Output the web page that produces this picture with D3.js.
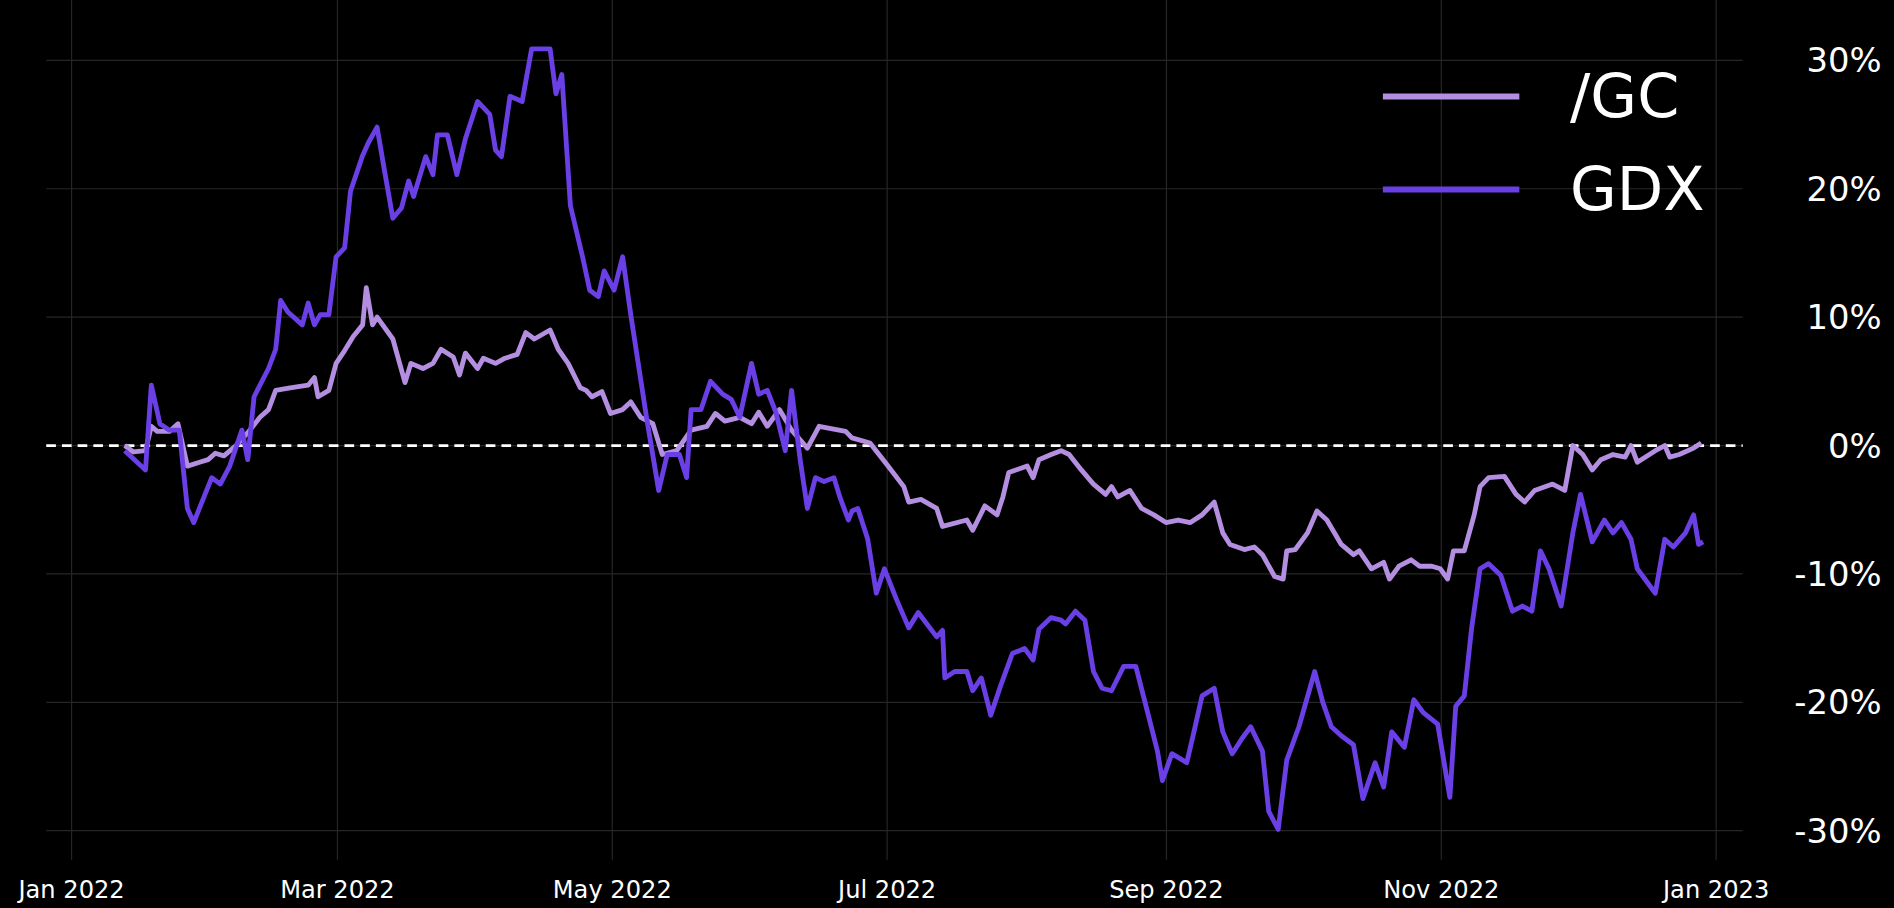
<!DOCTYPE html>
<html>
<head>
<meta charset="utf-8">
<script src="https://cdn.jsdelivr.net/npm/d3@7"></script>
<style>
  body { margin: 0; background: #000; overflow: hidden; }
  svg { display: block; }
  text { font-family: "DejaVu Sans", sans-serif; fill: #fff; }
</style>
</head>
<body>
<div id="chart"></div>
<script>
// day offsets from Jan 1 2022, values in percent
const gcDays = [11.8,13.7,16.4,17.7,19.0,21.7,23.6,25.7,28.4,30.3,31.9,33.8,36.5,39.1,41.8,43.7,45.3,48.5,52.5,53.9,54.7,57.1,58.7,60.6,62.5,64.6,65.4,66.8,67.8,71.3,74.0,75.3,78.0,80.2,82.0,84.7,86.1,87.4,90.1,91.4,94.1,96.2,98.9,100.8,102.7,106.2,108.0,110.2,112.9,114.2,115.5,117.7,119.6,122.3,124.1,126.3,129.0,131.1,134.3,137.5,141.0,142.9,145.0,148.3,150.9,152.5,154.4,157.1,159.8,163.3,165.9,171.8,173.2,177.2,181.2,184.7,185.8,188.5,192.0,193.3,198.7,200.0,202.7,205.4,206.7,208.0,212.1,213.4,214.7,217.4,219.6,221.4,224.1,226.8,229.5,230.8,232.2,234.9,237.5,240.2,242.9,245.6,248.3,250.9,253.6,255.5,257.1,260.3,262.5,264.3,267.0,268.9,269.7,271.6,274.3,276.4,278.6,281.8,284.5,285.8,288.5,291.2,292.5,294.6,297.3,299.2,301.9,303.8,305.4,306.7,309.1,311.3,312.6,314.5,318.0,320.6,322.5,324.7,328.7,331.4,333.2,335.4,337.5,339.4,342.1,344.8,346.1,347.5,350.2,351.5,353.6,354.7,356.8,360.0,361.7];
const gcVals = [0,-0.5,-0.4,1.5,1.1,1.1,1.7,-1.6,-1.3,-1.1,-0.6,-0.8,0,1.0,2.2,2.8,4.3,4.5,4.7,5.3,3.8,4.3,6.4,7.4,8.5,9.4,12.3,9.4,10.0,8.3,4.9,6.4,6.0,6.4,7.5,6.9,5.5,7.2,6.0,6.8,6.4,6.8,7.1,8.8,8.3,9.0,7.5,6.4,4.5,4.3,3.8,4.2,2.5,2.8,3.4,2.2,1.7,-0.7,-0.4,1.2,1.5,2.5,1.9,2.2,1.7,2.6,1.5,2.8,1.2,-0.2,1.5,1.1,0.6,0.2,-1.6,-3.2,-4.4,-4.2,-4.9,-6.3,-5.8,-6.6,-4.7,-5.4,-4.0,-2.1,-1.6,-2.5,-1.1,-0.7,-0.4,-0.7,-1.9,-3.0,-3.8,-3.2,-4.0,-3.5,-4.9,-5.4,-6.0,-5.8,-6.0,-5.4,-4.4,-6.8,-7.7,-8.1,-7.9,-8.5,-10.2,-10.4,-8.2,-8.1,-6.8,-5.1,-5.8,-7.7,-8.5,-8.2,-9.6,-9.1,-10.4,-9.4,-8.9,-9.4,-9.4,-9.6,-10.4,-8.2,-8.2,-5.4,-3.2,-2.5,-2.4,-3.8,-4.4,-3.5,-3.0,-3.5,0,-0.7,-1.9,-1.1,-0.7,-0.9,0,-1.3,-0.7,-0.4,0,-0.9,-0.7,-0.2,0.2];

const gdxDays = [11.8,16.4,17.7,19.6,21.7,23.9,25.7,27.1,31.1,33.0,35.1,37.8,39.1,40.5,43.7,45.3,46.4,48.0,51.2,52.5,53.9,55.2,57.1,58.7,60.6,61.9,64.6,65.9,67.8,69.4,71.3,73.2,74.8,75.9,78.6,80.2,81.2,83.4,85.5,87.4,90.1,92.8,94.1,95.4,97.3,100.0,102.1,106.2,107.5,108.8,110.7,113.4,115.0,116.9,118.2,120.4,122.3,124.1,127.6,130.3,132.2,134.9,136.5,137.5,139.7,141.8,144.5,146.4,148.3,150.9,152.5,154.4,156.3,158.4,159.8,161.7,163.3,165.1,167.0,169.2,170.5,172.4,173.2,174.5,176.7,178.6,180.4,183.1,185.8,187.9,192.0,193.3,193.8,196.0,198.7,200.0,201.9,204.0,206.2,208.8,211.5,213.4,214.7,217.4,219.6,220.6,222.8,224.9,226.8,228.7,230.8,233.5,236.2,238.9,241.0,242.1,244.2,247.5,249.1,250.9,253.6,255.5,257.6,259.8,261.7,264.3,265.7,267.8,269.7,272.4,275.9,277.7,279.6,281.8,284.5,286.6,289.3,291.2,293.0,295.8,297.9,300.0,303.2,305.9,307.2,309.1,310.7,312.6,314.5,317.2,319.8,322.0,324.1,326.0,327.9,330.6,333.2,334.9,337.5,340.2,342.1,344.0,346.1,347.5,351.5,353.6,355.5,358.2,360.0,361.1,362.1];
const gdxVals = [-0.4,-1.9,4.7,1.7,1.2,1.2,-4.9,-6.0,-2.5,-3.0,-1.6,1.2,-1.1,3.8,6.0,7.5,11.3,10.4,9.4,11.1,9.4,10.2,10.2,14.7,15.4,19.8,22.6,23.6,24.8,21.5,17.7,18.5,20.6,19.4,22.5,21.1,24.2,24.2,21.1,23.9,26.8,25.8,23.0,22.5,27.2,26.8,30.9,30.9,27.4,28.9,18.7,14.7,12.1,11.6,13.6,12.1,14.7,10.2,2.2,-3.5,-0.7,-0.7,-2.5,2.8,2.8,5.0,4.0,3.6,2.2,6.4,4.0,4.3,2.6,-0.4,4.3,-1.1,-4.9,-2.5,-2.8,-2.5,-4.0,-5.8,-5.1,-4.9,-7.3,-11.5,-9.6,-12.0,-14.2,-13.0,-14.9,-14.4,-18.1,-17.6,-17.6,-19.1,-18.1,-21.0,-18.7,-16.2,-15.8,-16.7,-14.3,-13.4,-13.6,-13.9,-12.9,-13.6,-17.6,-18.9,-19.1,-17.2,-17.2,-20.9,-23.8,-26.1,-24.0,-24.7,-22.3,-19.5,-18.9,-22.3,-24.0,-22.8,-21.9,-23.8,-28.5,-29.9,-24.5,-21.9,-17.6,-20.0,-21.9,-22.6,-23.3,-27.5,-24.7,-26.6,-22.3,-23.5,-19.8,-20.8,-21.7,-27.4,-20.3,-19.5,-14.3,-9.6,-9.2,-10.1,-12.9,-12.5,-12.9,-8.2,-9.6,-12.5,-6.8,-3.8,-7.5,-5.8,-6.8,-6.0,-7.3,-9.6,-11.5,-7.3,-7.9,-6.8,-5.4,-7.7,-7.5];

const seriesNames = ["/GC", "GDX"];
const seriesColors = ["#b48ee0", "#6a3fe6"];
const xTickDates = ["2022-01-01","2022-03-01","2022-05-01","2022-07-01","2022-09-01","2022-11-01","2023-01-01"];
const yTicks = [-30,-20,-10,0,10,20,30];

// layout is worked out on a 1568x752 grid and scaled to the window
const vw = 1568, vh = 752;
const start = new Date(2022, 0, 1);
const toDate = d => new Date(start.getTime() + d * 86400000);

const svg = d3.select("#chart").append("svg")
  .attr("width", 1894).attr("height", 908)
  .attr("viewBox", `0 0 ${vw} ${vh}`)
  .style("background", "#000");

const x = d3.scaleTime().domain([start, new Date(2023, 0, 1)]).range([59, 1421]);
const y = d3.scaleLinear().domain([-30, 30]).range([688, 50]);
const left = 38, right = 1443;

// grid
svg.append("g").selectAll("line")
  .data(xTickDates.map(d3.isoParse)).enter().append("line")
  .attr("x1", d => x(d)).attr("x2", d => x(d))
  .attr("y1", 0).attr("y2", 712)
  .attr("stroke", "#262626").attr("stroke-width", 1);
svg.append("g").selectAll("line")
  .data(yTicks).enter().append("line")
  .attr("x1", left).attr("x2", right)
  .attr("y1", d => y(d)).attr("y2", d => y(d))
  .attr("stroke", "#262626").attr("stroke-width", 1);

// axis labels
const fmtX = d3.timeFormat("%b %Y");
svg.append("g").selectAll("text")
  .data(xTickDates.map(d3.isoParse)).enter().append("text")
  .attr("x", d => x(d)).attr("y", 744)
  .attr("text-anchor", "middle").attr("font-size", 20)
  .text(d => fmtX(d));
svg.append("g").selectAll("text")
  .data(yTicks).enter().append("text")
  .attr("x", 1558).attr("y", d => y(d) + 10)
  .attr("text-anchor", "end").attr("font-size", 28)
  .text(d => (d < 0 ? "-" : "") + Math.abs(d) + "%");

// zero line
svg.append("line")
  .attr("x1", left).attr("x2", right)
  .attr("y1", y(0)).attr("y2", y(0))
  .attr("stroke", "#fff").attr("stroke-width", 2.2)
  .attr("stroke-dasharray", "8,5");

const line = d3.line().x(d => x(toDate(d[0]))).y(d => y(d[1]));
const series = [d3.zip(gcDays, gcVals), d3.zip(gdxDays, gdxVals)];
series.forEach((s, i) => {
  svg.append("path").datum(s)
    .attr("d", line).attr("fill", "none")
    .attr("stroke", seriesColors[i]).attr("stroke-width", 4)
    .attr("stroke-linejoin", "round");
});

// legend
const lg = svg.append("g");
seriesNames.forEach((n, i) => {
  const yy = 80 + i * 77;
  lg.append("line").attr("x1", 1145).attr("x2", 1258)
    .attr("y1", yy).attr("y2", yy)
    .attr("stroke", seriesColors[i]).attr("stroke-width", 5);
  lg.append("text").attr("x", 1300).attr("y", yy + 17)
    .attr("font-size", 50).text(n);
});
</script>
</body>
</html>
